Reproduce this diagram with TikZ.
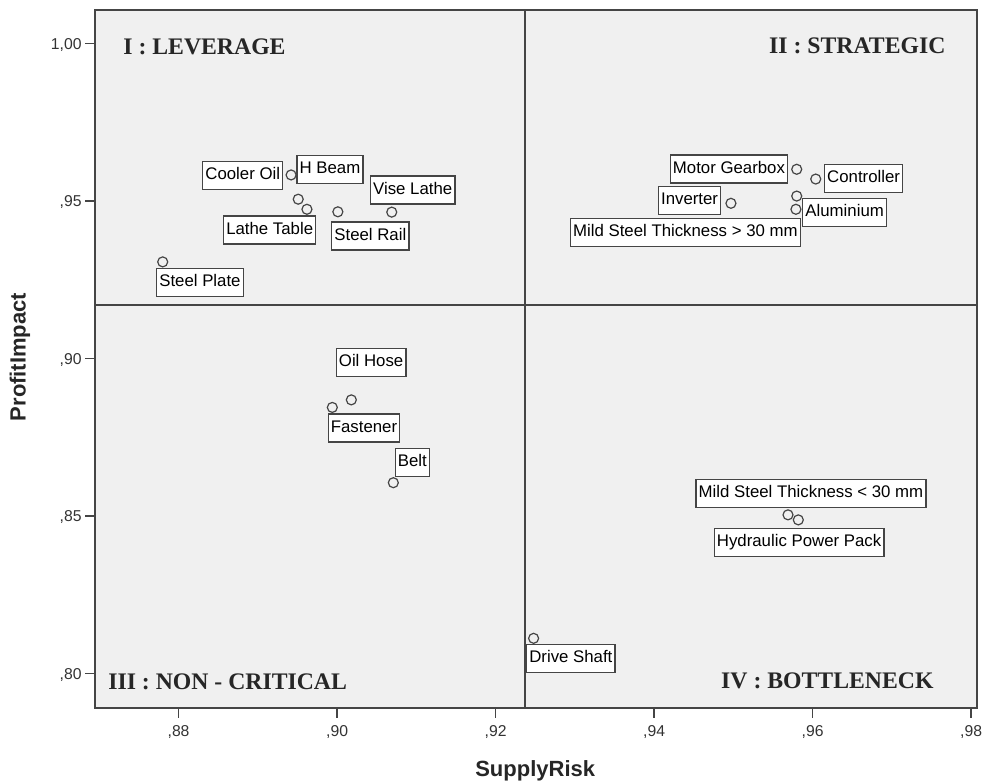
\documentclass[tikz,border=0pt]{standalone}
\usepackage{fontspec}
\setmainfont{Liberation Serif}
\setsansfont{Liberation Sans}
\definecolor{plotbg}{HTML}{F0F0F0}
\definecolor{axisgray}{HTML}{454545}

\begin{document}
\begin{tikzpicture}[x=59.4375pt,y=23.625pt,
  lbl/.style={draw=axisgray,fill=white,line width=0.9pt,font=\sffamily\fontsize{12.6}{14}\selectfont,inner xsep=2pt,inner ysep=0pt,minimum height=21pt,text height=9pt,text depth=2.8pt},
  pt/.style={draw=axisgray,line width=0.9pt},
  quad/.style={font=\bfseries\fontsize{17.8}{20}\selectfont,text=black!85,inner sep=0pt},
  ticklbl/.style={font=\sffamily\fontsize{11.8}{13}\selectfont,text=black!80,inner sep=0pt},
  axtitle/.style={font=\sffamily\bfseries\fontsize{16.5}{19}\selectfont,text=black!85,inner sep=0pt}]
\useasboundingbox (85.748,76.517) rectangle (98.139,101.375);
\fill[plotbg] (86.946,78.898) rectangle (98.076,101.057);
\draw[axisgray,line width=1.1pt] (92.37,78.898) -- (92.37,101.057);
\draw[axisgray,line width=1.1pt] (86.946,91.69) -- (98.076,91.69);
\draw[axisgray,line width=1.3pt] (86.946,78.898) rectangle (98.076,101.057);

\draw[axisgray,line width=1.1pt] (86.946,80) -- ++(-7.5pt,0);
\draw[axisgray,line width=1.1pt] (86.946,85) -- ++(-7.5pt,0);
\draw[axisgray,line width=1.1pt] (86.946,90) -- ++(-7.5pt,0);
\draw[axisgray,line width=1.1pt] (86.946,95) -- ++(-7.5pt,0);
\draw[axisgray,line width=1.1pt] (86.946,100) -- ++(-7.5pt,0);
\node[ticklbl,anchor=base east,yshift=-4.3pt] (y80) at (86.78,80) {,80};
\node[ticklbl,anchor=base east,yshift=-4.3pt] (y85) at (86.78,85) {,85};
\node[ticklbl,anchor=base east,yshift=-4.3pt] (y90) at (86.78,90) {,90};
\node[ticklbl,anchor=base east,yshift=-4.3pt] (y95) at (86.78,95) {,95};
\node[ticklbl,anchor=base east,yshift=-4.3pt] (y100) at (86.78,100) {1,00};

\draw[axisgray,line width=1.1pt] (88,78.898) -- ++(0,-7.5pt);
\draw[axisgray,line width=1.1pt] (90,78.898) -- ++(0,-7.5pt);
\draw[axisgray,line width=1.1pt] (92,78.898) -- ++(0,-7.5pt);
\draw[axisgray,line width=1.1pt] (94,78.898) -- ++(0,-7.5pt);
\draw[axisgray,line width=1.1pt] (96,78.898) -- ++(0,-7.5pt);
\draw[axisgray,line width=1.1pt] (98,78.898) -- ++(0,-7.5pt);
\node[ticklbl,anchor=base] (x88) at (88,77.99) {,88};
\node[ticklbl,anchor=base] (x90) at (90,77.99) {,90};
\node[ticklbl,anchor=base] (x92) at (92,77.99) {,92};
\node[ticklbl,anchor=base] (x94) at (94,77.99) {,94};
\node[ticklbl,anchor=base] (x96) at (96,77.99) {,96};
\node[ticklbl,anchor=base] (x98) at (98,77.99) {,98};

\node[axtitle,anchor=base] (supply) at (92.50,76.72) {SupplyRisk};
\node[axtitle,rotate=90] (profit) at (86.0,90.04) {ProfitImpact};

\node[quad,anchor=base west] (leverage) at (87.30,99.63) {I : LEVERAGE};
\node[quad,anchor=base east] (strategic) at (97.68,99.68) {II : STRATEGIC};
\node[quad,anchor=base west] (noncritical) at (87.11,79.47) {III : NON - CRITICAL};
\node[quad,anchor=base east] (bottleneck) at (97.53,79.52) {IV : BOTTLENECK};

\draw[pt] (87.80,93.06) circle[radius=3.75pt];
\draw[pt] (89.42,95.82) circle[radius=3.75pt];
\draw[pt] (89.51,95.05) circle[radius=3.75pt];
\draw[pt] (89.62,94.73) circle[radius=3.75pt];
\draw[pt] (90.01,94.65) circle[radius=3.75pt];
\draw[pt] (90.69,94.64) circle[radius=3.75pt];
\draw[pt] (95.80,96.00) circle[radius=3.75pt];
\draw[pt] (96.04,95.69) circle[radius=3.75pt];
\draw[pt] (94.97,94.92) circle[radius=3.75pt];
\draw[pt] (95.80,95.15) circle[radius=3.75pt];
\draw[pt] (95.79,94.73) circle[radius=3.75pt];
\draw[pt] (90.18,88.68) circle[radius=3.75pt];
\draw[pt] (89.94,88.44) circle[radius=3.75pt];
\draw[pt] (90.71,86.05) circle[radius=3.75pt];
\draw[pt] (95.69,85.03) circle[radius=3.75pt];
\draw[pt] (95.82,84.87) circle[radius=3.75pt];
\draw[pt] (92.48,81.11) circle[radius=3.75pt];

\node[lbl] (steelplate) at (88.27,92.41) {Steel Plate};
\node[lbl] (cooleroil) at (88.81,95.80) {Cooler Oil};
\node[lbl] (hbeam) at (89.91,95.99) {H Beam};
\node[lbl] (lathetable) at (89.15,94.07) {Lathe Table};
\node[lbl] (steelrail) at (90.42,93.88) {Steel Rail};
\node[lbl] (viselathe) at (90.955,95.34) {Vise Lathe};
\node[lbl] (gearbox) at (94.945,96.01) {Motor Gearbox};
\node[lbl] (controller) at (96.644,95.71) {Controller};
\node[lbl] (inverter) at (94.448,95.01) {Inverter};
\node[lbl] (aluminium) at (96.405,94.64) {Aluminium};
\node[lbl] (mildthick) at (94.395,93.99) {Mild Steel Thickness > 30 mm};
\node[lbl] (oilhose) at (90.43,89.87) {Oil Hose};
\node[lbl] (fastener) at (90.34,87.79) {Fastener};
\node[lbl] (belt) at (90.95,86.69) {Belt};
\node[lbl] (mildthin) at (95.98,85.71) {Mild Steel Thickness < 30 mm};
\node[lbl] (hydraulic) at (95.83,84.15) {Hydraulic Power Pack};
\node[lbl] (driveshaft) at (92.95,80.47) {Drive Shaft};
\end{tikzpicture}
\end{document}
